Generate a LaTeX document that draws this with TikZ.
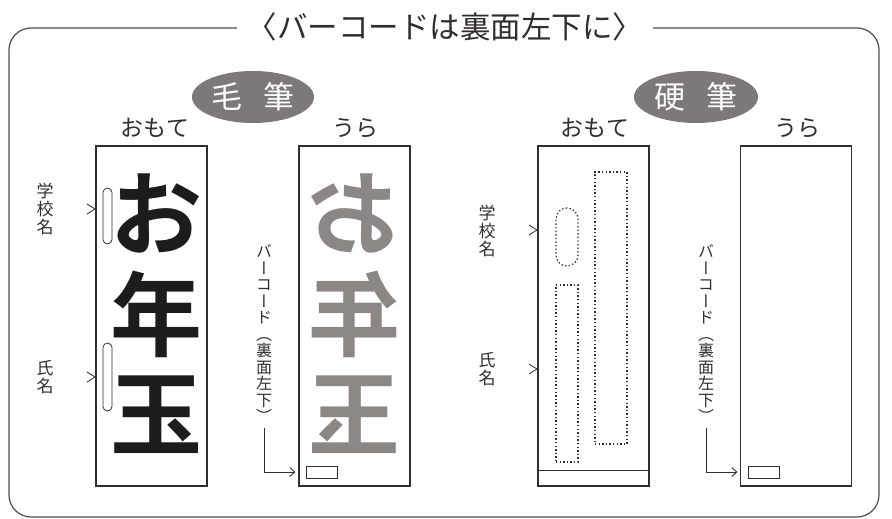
\documentclass[tikz,border=0pt]{standalone}
\usepackage{fontspec}
\usepackage{xcolor}
\usepackage{tikz}
\usetikzlibrary{shapes.geometric, arrows.meta, calc}
\usetikzlibrary{positioning}
\newfontfamily\jp{Noto Sans CJK JP}
\newfontfamily\jpbf{Noto Sans CJK JP Bold}
\newfontfamily\jpv[RawFeature=+vert]{Noto Sans CJK JP}
\definecolor{ink}{RGB}{50,46,45}
\definecolor{shade}{RGB}{140,135,133}
\definecolor{badgegray}{RGB}{125,121,120}

\tikzset{
  panel/.style={draw=ink, line width=1.4pt, minimum width=111, minimum height=340, inner sep=0pt},
  badge/.style={ellipse, fill=badgegray, text=white, minimum width=122, minimum height=52, inner sep=0pt,
    font=\jp\fontsize{31}{31}\selectfont},
  side/.style={font=\jp\fontsize{23}{23}\selectfont, text=ink},
  bigchar/.style={font=\jpbf\fontsize{92}{92}\selectfont, inner sep=0pt},
  tate/.style={font=\jpv\fontsize{16}{16.5}\selectfont, align=center, text=ink, inner sep=1pt},
  slot/.style={draw=ink, line width=0.8pt, rounded corners=4.5, minimum width=9, minimum height=56, inner sep=0pt},
  dotbox/.style={draw=ink, line width=1.2pt, dash pattern=on 1.4pt off 2.2pt, inner sep=0pt},
  barbox/.style={draw=ink, line width=1pt, minimum width=31, minimum height=12, inner sep=0pt},
  chev/.style={draw=ink, line width=0.8pt},
  bcarrow/.style={draw=ink, line width=0.9pt, -{Straight Barb[length=5pt, width=9pt]}}
}

\begin{document}
\begin{tikzpicture}[x=1pt, y=-1pt]
\useasboundingbox (0,0) rectangle (892,519);

% frame and heading
\draw[draw=ink!85, line width=1.2pt, rounded corners=22] (9,28) rectangle (879,517);
\node[fill=white, inner xsep=10pt, minimum height=30, font=\jp\fontsize{30.5}{30}\selectfont, text=ink] (title) at (445,27) {〈バーコードは裏面左下に〉};

% kinds of pen
\node[badge] (kefude) at (253,97) {毛\hspace{21pt}筆};
\node[badge, minimum width=124] (kouhitsu) at (696,97) {硬\hspace{21pt}筆};

% panels
\node[panel] (omote1) at (151.5,316) {};
\node[panel] (ura1) at (354.5,316) {};
\node[panel] (omote2) at (593.5,316) {};
\node[panel] (ura2) at (796,316) {};
\draw[ink, line width=1.4pt] ($(omote2.south west)+(0,-16)$) -- ($(omote2.south east)+(0,-16)$);

\node[side] (om1) at (155,128) {おもて};
\node[side] (ur1) at (355,128) {うら};
\node[side] (om2) at (595,128) {おもて};
\node[side] (ur2) at (797,128) {うら};

% brush: front and back
\foreach \c/\y in {お/213, 年/314, 玉/415} {
  \node[bigchar, text=ink!60!black] (front-\y) at (156,\y) {\c};
  \node[bigchar, text=shade, xscale=-1, transform shape] (back-\y) at (354,\y) {\c};
}
\node[slot] (slot1) at (107.5,216) {};
\node[slot, minimum height=68] (slot2) at (107.5,377) {};

% pen: front
\node[dotbox, rounded corners=11, minimum width=22, minimum height=58] (school2) at (567,237) {};
\node[dotbox, minimum width=22, minimum height=177] (name2) at (567,373.5) {};
\node[dotbox, minimum width=32, minimum height=272] (addr2) at (611,308) {};

% labels on the left
\node[tate, font=\jp\fontsize{17}{18}\selectfont] (gakkou1) at (45,209) {学\\校\\名};
\node[tate, font=\jp\fontsize{17}{18}\selectfont] (shimei1) at (45,377) {氏\\名};
\node[tate, font=\jp\fontsize{17}{18}\selectfont] (gakkou2) at (487,231) {学\\校\\名};
\node[tate, font=\jp\fontsize{17}{18}\selectfont] (shimei2) at (487,369) {氏\\名};
\foreach \x/\y in {95/209, 95/377, 537/230, 537/369}
  \draw[chev] (\x-8,\y-5) -- (\x,\y) -- (\x-8,\y+5);

% barcodes
\node[barbox] (bar1) at (321.5,472) {};
\node[barbox] (bar2) at (763.5,472) {};
\node[tate] (bc1) at (264,334) {バ\\ー\\コ\\ー\\ド\\（\\裏\\面\\左\\下\\）};
\node[tate] (bc2) at (706,334) {バ\\ー\\コ\\ー\\ド\\（\\裏\\面\\左\\下\\）};
\draw[bcarrow, shorten <=4pt, shorten >=10pt] (bc1.south) |- (bar1.west);
\draw[bcarrow, shorten <=4pt, shorten >=10pt] (bc2.south) |- (bar2.west);
\end{tikzpicture}
\end{document}
